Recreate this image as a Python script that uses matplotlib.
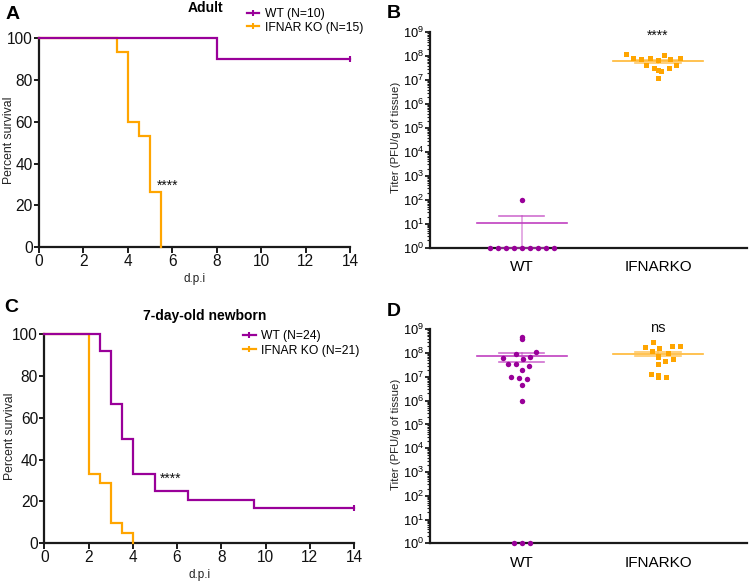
import numpy as np
import matplotlib
matplotlib.use("Agg")
import matplotlib.pyplot as plt
from matplotlib.lines import Line2D
from matplotlib.ticker import LogLocator, NullFormatter, FuncFormatter, FixedLocator

plt.rcParams['font.family'] = ['Liberation Sans', 'DejaVu Sans']
plt.rcParams['mathtext.fontset'] = 'custom'
plt.rcParams['mathtext.rm'] = 'Liberation Sans'
plt.rcParams['mathtext.it'] = 'Liberation Sans:italic'
plt.rcParams['mathtext.bf'] = 'Liberation Sans:bold'

PURPLE = '#990099'
ORANGE = '#FFA500'
AXC = '#1a1a1a'

# ---------------- data ----------------
# Survival (Kaplan-Meier): event times (d.p.i) and number of deaths at each time
A_wt_n = 10
A_wt_times = [8.0]
A_wt_deaths = [1]
A_ko_n = 15
A_ko_times = [3.5, 4.0, 4.5, 5.0, 5.5]
A_ko_deaths = [1, 5, 1, 4, 4]

C_wt_n = 24
C_wt_times = [2.5, 3.0, 3.5, 4.0, 5.0, 6.5, 9.5]
C_wt_deaths = [2, 6, 4, 4, 2, 1, 1]
C_ko_n = 21
C_ko_times = [2.0, 2.5, 3.0, 3.5, 4.0]
C_ko_deaths = [14, 1, 4, 1, 1]

end_day = 14

# Titers (PFU/g of tissue)
groups = ['WT', 'IFNARKO']
B_wt = [1, 1, 1, 1, 1, 1, 1, 1, 1, 100]
B_ko = [1.17e8, 8.7e7, 4.3e7, 7.7e7, 3.2e7, 6.8e7, 1.23e7, 2.75e7, 7.4e7,
        2.5e7, 3.2e7, 8.2e7, 4.3e7, 8.5e7, 1.24e8]
D_wt = [3.8e8, 4.7e8, 8.9e7, 1.1e8, 6.4e7, 6.6e7, 5.5e7, 3.5e7, 3.5e7, 2.9e7,
        2.0e7, 9.2e6, 1.02e7, 8.1e6, 4.4e6, 1.0e6, 1, 1, 1]
D_ko = [2.0e8, 1.63e8, 2.8e8, 1.86e8, 2.0e8, 7.5e7, 7.1e7, 1.0e8, 1.22e8,
        4.5e7, 3.4e7, 5.5e7, 7.1e7, 1.32e7, 1.12e7, 9.8e6, 9.8e6, 1.23e7]

# ---------------- figure ----------------
W, H = 750, 585
fig = plt.figure(figsize=(W / 100, H / 100), dpi=100)


def axpos(l, r, t, b):
    return [l / W, 1 - b / H, (r - l) / W, (b - t) / H]


def km_curve(n, times, deaths):
    xs, ys = [0.0], [100.0]
    alive = n
    for t, d in zip(times, deaths):
        xs += [t, t]
        ys += [ys[-1], 100.0 * (alive - d) / n]
        alive -= d
    if alive > 0:
        xs.append(end_day)
        ys.append(ys[-1])
    return np.array(xs), np.array(ys), alive


def style_surv(ax):
    ax.set_xlim(0, 14)
    ax.set_ylim(0, 100)
    for s in ['top', 'right']:
        ax.spines[s].set_visible(False)
    for s in ['left', 'bottom']:
        ax.spines[s].set_linewidth(1.6)
        ax.spines[s].set_color(AXC)
    ax.set_xticks(range(0, 15, 2))
    ax.set_yticks(range(0, 101, 20))
    ax.tick_params(axis='both', direction='out', width=1.4, color=AXC,
                   labelsize=11.2, labelcolor='#111111')
    ax.tick_params(axis='x', length=4, pad=1)
    ax.tick_params(axis='y', length=3.5, pad=1)
    ax.set_xlabel('d.p.i', fontsize=8.5, labelpad=3, color='#222222')
    ax.set_ylabel('Percent survival', fontsize=8.8, color='#222222')


def draw_surv(ax, wt, ko, wt_label, ko_label):
    handles = []
    for (n, times, deaths), color, label in [(ko, ORANGE, ko_label), (wt, PURPLE, wt_label)]:
        xs, ys, alive = km_curve(n, times, deaths)
        ax.plot(xs, ys, color=color, lw=1.6, clip_on=False, solid_joinstyle='miter', zorder=3)
        if alive > 0:
            ax.plot([end_day], [ys[-1]], marker='|', ms=5, mew=1.5, color=color,
                    clip_on=False, zorder=3)
    for color, label in [(PURPLE, wt_label), (ORANGE, ko_label)]:
        handles.append(Line2D([], [], color=color, lw=1.6, marker='|', ms=5, mew=1.5))
    return handles


# Panel A
axA = fig.add_axes(axpos(39, 350, 38.3, 247.3))
style_surv(axA)
hA = draw_surv(axA, (A_wt_n, A_wt_times, A_wt_deaths), (A_ko_n, A_ko_times, A_ko_deaths),
               'WT (N=10)', 'IFNAR KO (N=15)')
axA.yaxis.set_label_coords(-0.078, 0.51)
axA.text(5.3, 27.3, '****', fontsize=10, ha='left', va='baseline', color='#111111')
axA.legend(hA, ['WT (N=10)', 'IFNAR KO (N=15)'], loc='upper left',
           bbox_to_anchor=(246.7 / W, 1 - 8.3 / H), bbox_transform=fig.transFigure,
           frameon=False, fontsize=8.7, handlelength=1.05, handletextpad=0.45,
           labelspacing=0.1, borderpad=0, borderaxespad=0, numpoints=1)
fig.text(205 / W, 1 - 7.7 / H, 'Adult', fontsize=10, fontweight='bold', ha='center', va='center')

# Panel C
axC = fig.add_axes(axpos(44.3, 354, 334, 543.3))
style_surv(axC)
hC = draw_surv(axC, (C_wt_n, C_wt_times, C_wt_deaths), (C_ko_n, C_ko_times, C_ko_deaths),
               'WT (N=24)', 'IFNAR KO (N=21)')
axC.yaxis.set_label_coords(-0.09, 0.51)
axC.text(5.23, 29, '****', fontsize=10, ha='left', va='baseline', color='#111111')
axC.legend(hC, ['WT (N=24)', 'IFNAR KO (N=21)'], loc='upper left',
           bbox_to_anchor=(242.7 / W, 1 - 330.5 / H), bbox_transform=fig.transFigure,
           frameon=False, fontsize=8.7, handlelength=1.1, handletextpad=0.4,
           labelspacing=0.18, borderpad=0, borderaxespad=0, numpoints=1)
fig.text(205 / W, 1 - 316 / H, '7-day-old newborn', fontsize=10, fontweight='bold',
         ha='center', va='center')


# ---------------- titer panels ----------------
XLIM = (-0.673, 1.653)
TITER_W_PX = 317.0


def swarm_offsets(xc, values, diam_px, height_px):
    """Beeswarm placement computed in pixel space; returns x positions in data units."""
    px_per_x = TITER_W_PX / (XLIM[1] - XLIM[0])
    px_per_dec = height_px / 9.0
    ypx = np.log10(np.asarray(values, dtype=float)) * px_per_dec
    order = np.argsort(ypx, kind='stable')
    placed = []
    xoff = np.zeros(len(values))
    for i in order:
        cands = [0.0]
        for (px, py) in placed:
            dy = ypx[i] - py
            if abs(dy) < diam_px:
                dx = np.sqrt(diam_px ** 2 - dy ** 2)
                cands += [px + dx, px - dx]
        cands = sorted(set(round(float(c), 6) for c in cands), key=lambda c: (abs(c), -c))
        for c in cands:
            if all((c - px) ** 2 + (ypx[i] - py) ** 2 >= diam_px ** 2 - 1e-6 for (px, py) in placed):
                xoff[i] = c
                placed.append((c, ypx[i]))
                break
    return xc + xoff / px_per_x


def style_titer(ax):
    ax.set_yscale('log')
    ax.set_ylim(1, 1e9)
    ax.set_xlim(*XLIM)
    for s in ['top', 'right']:
        ax.spines[s].set_visible(False)
    for s in ['left', 'bottom']:
        ax.spines[s].set_linewidth(1.6)
        ax.spines[s].set_color(AXC)
    ax.yaxis.set_major_locator(FixedLocator([10.0 ** k for k in range(10)]))
    ax.yaxis.set_major_formatter(FuncFormatter(lambda v, p: r'$\mathregular{10^{%d}}$' % round(np.log10(v))))
    ax.yaxis.set_minor_locator(LogLocator(base=10, subs=np.arange(2, 10), numticks=20))
    ax.yaxis.set_minor_formatter(NullFormatter())
    ax.tick_params(axis='y', which='major', direction='out', length=3.5, width=1.3,
                   color=AXC, labelsize=9.3, pad=1)
    ax.tick_params(axis='y', which='minor', direction='out', length=2, width=0.8, color=AXC)
    ax.set_xticks([0, 1])
    ax.set_xticklabels(groups)
    ax.tick_params(axis='x', length=0, labelsize=11, pad=9)
    ax.set_ylabel('Titer (PFU/g of tissue)', fontsize=8.2, color='#222222')
    ax.yaxis.set_label_coords(-0.09, 0.51)


def mean_sem(ax, xc, vals, lcolor):
    v = np.asarray(vals, dtype=float)
    m = v.mean()
    sem = v.std(ddof=1) / np.sqrt(len(v))
    lo = max(m - sem, 1.0)
    ax.plot([xc - 0.33, xc + 0.33], [m, m], color=lcolor, lw=1.2, zorder=4, clip_on=False)
    ax.plot([xc - 0.167, xc + 0.167], [m + sem, m + sem], color=lcolor, lw=1.2, alpha=0.75, zorder=4)
    ax.plot([xc - 0.167, xc + 0.167], [lo, lo], color=lcolor, lw=1.2, alpha=0.75, zorder=4, clip_on=False)
    ax.plot([xc, xc], [lo, m + sem], color=lcolor, lw=1.2, alpha=0.5, zorder=4, clip_on=False)


def draw_titer(ax, wt, ko, height_px):
    xw = swarm_offsets(0, wt, 8.0, height_px)
    xk = swarm_offsets(1, ko, 8.0, height_px)
    ax.plot(xw, wt, 'o', color=PURPLE, ms=3.9, mew=0, clip_on=False, zorder=5)
    ax.plot(xk, ko, 's', color=ORANGE, ms=3.6, mew=0, clip_on=False, zorder=5)
    mean_sem(ax, 0, wt, '#C040C0')
    mean_sem(ax, 1, ko, '#FFB733')


axB = fig.add_axes(axpos(430, 747, 32.3, 247.7))
style_titer(axB)
draw_titer(axB, B_wt, B_ko, 247.7 - 32.3)
axB.text(1.0, 10 ** 8.68, '****', fontsize=10, ha='center', va='baseline', color='#111111')

axD = fig.add_axes(axpos(430, 747, 329.3, 543.3))
style_titer(axD)
draw_titer(axD, D_wt, D_ko, 543.3 - 329.3)
axD.text(1.0, 10 ** 8.9, 'ns', fontsize=10.5, ha='center', va='baseline', color='#111111')

# panel letters
for lab, x, y in [('A', 12.5, 14.5), ('B', 394, 13.5), ('C', 11.5, 307.5), ('D', 394, 311)]:
    fig.text(x / W, 1 - y / H, lab, fontsize=14, fontweight='bold', ha='center', va='center')

fig.savefig('out.png', dpi=100)
